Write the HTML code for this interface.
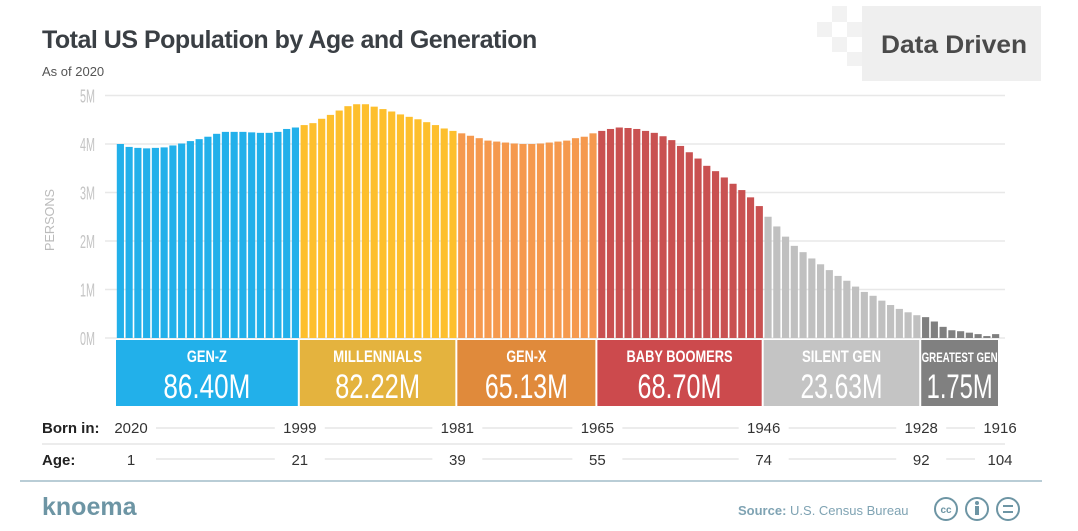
<!DOCTYPE html>
<html><head><meta charset="utf-8">
<style>
body{margin:0;background:#fff;width:1078px;height:526px;overflow:hidden;font-family:"Liberation Sans",sans-serif}
svg text{font-family:"Liberation Sans",sans-serif}
</style></head><body>
<svg id="chart" width="1078" height="526" viewBox="0 0 1078 526">
<text x="42" y="48" font-size="25" font-weight="bold" fill="#3a3f44" letter-spacing="-0.5">Total US Population by Age and Generation</text>
<text x="42" y="76" font-size="13" fill="#555">As of 2020</text>
<g>
<rect x="862" y="6" width="179" height="75" fill="#efefef"/>
<rect x="817" y="22" width="15" height="15" fill="#f2f2f2"/>
<rect x="832" y="6" width="15" height="16" fill="#f2f2f2"/>
<rect x="832" y="37" width="15" height="15" fill="#f2f2f2"/>
<rect x="847" y="22" width="15" height="15" fill="#f2f2f2"/>
<rect x="847" y="52" width="15" height="14" fill="#f2f2f2"/>
<text x="954" y="53" font-size="25" font-weight="bold" fill="#4a4a4a" text-anchor="middle" textLength="146" lengthAdjust="spacingAndGlyphs">Data Driven</text>
</g>
<text transform="translate(54,220) rotate(-90)" font-size="13" fill="#bbb" text-anchor="middle" textLength="62" lengthAdjust="spacingAndGlyphs">PERSONS</text>
<g id="grid"></g>
<g id="bars"></g>
<g id="gens"></g>
<g id="rows"></g>
<line x1="20" y1="481" x2="1042" y2="481" stroke="#b9cdd6" stroke-width="2"/>
<text x="42" y="515" font-size="25" font-weight="bold" fill="#6d95a4">knoema</text>
<text x="738" y="515" font-size="13" fill="#7fa3b3"><tspan font-weight="bold">Source:</tspan> U.S. Census Bureau</text>
<g fill="none" stroke="#6d95a4" stroke-width="2">
<circle cx="946" cy="509" r="11"/><circle cx="977" cy="509" r="11"/><circle cx="1008" cy="509" r="11"/>
<text x="946" y="513" font-size="10" font-weight="bold" fill="#6d95a4" stroke="none" text-anchor="middle">cc</text>
<circle cx="977" cy="503" r="2" fill="#6d95a4" stroke="none"/><rect x="975" y="506" width="4" height="9" fill="#6d95a4" stroke="none"/>
<line x1="1003" y1="506" x2="1013" y2="506"/><line x1="1003" y1="512" x2="1013" y2="512"/>
</g>
</svg>
<script>
const genNames=["GEN-Z","MILLENNIALS","GEN-X","BABY BOOMERS","SILENT GEN","GREATEST GEN"];
const genTotals=["86.40M","82.22M","65.13M","68.70M","23.63M","1.75M"];
const genZ=[4.00,3.94,3.92,3.91,3.92,3.93,3.97,4.01,4.06,4.10,4.15,4.21,4.25,4.25,4.25,4.24,4.23,4.23,4.25,4.31,4.34];
const millennials=[4.39,4.43,4.52,4.60,4.69,4.78,4.82,4.82,4.77,4.72,4.67,4.61,4.56,4.51,4.45,4.39,4.32,4.27];
const genX=[4.22,4.17,4.12,4.07,4.05,4.03,4.01,4.00,4.00,4.01,4.03,4.05,4.07,4.12,4.15,4.22];
const boomers=[4.27,4.31,4.34,4.33,4.31,4.27,4.23,4.16,4.08,3.96,3.83,3.70,3.55,3.44,3.31,3.18,3.05,2.90,2.72];
const silent=[2.50,2.30,2.09,1.90,1.77,1.64,1.52,1.40,1.28,1.18,1.06,0.95,0.87,0.77,0.68,0.60,0.53,0.47];
const greatest=[0.43,0.34,0.23,0.16,0.14,0.11,0.08,0.04,0.08];
const yTicks=[0,1,2,3,4,5];
const bornLabels=["2020","1999","1981","1965","1946","1928","1916"];
const ageLabels=["1","21","39","55","74","92","104"];
const series=[genZ,millennials,genX,boomers,silent,greatest];
const barColors=["#22b0ea","#fdbf2d","#f5994e","#c95151","#c0c0c0","#7f7f7f"];
const boxColors=["#22b0ea","#e4b33e","#e08a3b","#cc4a4d","#c4c4c4","#808080"];
const nameW=[40,89,40,106,79,76];
const totW=[87,85,83,84,82,66];
const NS="http://www.w3.org/2000/svg";
function mk(t,a,p){const e=document.createElementNS(NS,t);for(const k in a)e.setAttribute(k,a[k]);p.appendChild(e);return e;}
const X0=116,X1=1000,BASE=338,PXM=48.5;
const total=series.reduce((s,a)=>s+a.length,0);
const pitch=(X1-X0)/total;
const xAt=i=>X0+i*pitch;
const yAt=v=>BASE-v*PXM;
const grid=document.getElementById('grid');
yTicks.forEach(t=>{
 const l=mk('line',{x1:105,x2:1005,y1:yAt(t),y2:yAt(t),stroke:'#e8e8e8','stroke-width':1.5},grid);
 
 
 const tx=mk('text',{x:80,y:yAt(t)+7,'font-size':18,fill:'#c4c4c4',textLength:15,lengthAdjust:'spacingAndGlyphs'},grid);
 tx.textContent=t+'M';
 
 
});
const bars=document.getElementById('bars'),gens=document.getElementById('gens'),rows=document.getElementById('rows');
let idx=0;const bounds=[X0];
series.forEach((arr,g)=>{
 arr.forEach(v=>{
  const r=mk('rect',{x:xAt(idx)+0.8,y:yAt(v),width:pitch-1.6,height:v*PXM,fill:barColors[g]},bars);
  
  
  idx++;
 });
 const xa=bounds[g],xb=xAt(idx);bounds.push(xb);
 const box=mk('rect',{x:xa,y:340,width:xb-xa-2,height:66,fill:boxColors[g]},gens);
 
 
 const cx=(xa+xb-2)/2;
 const t1=mk('text',{x:cx-nameW[g]/2,y:362,'font-size':g===5?14:17,'font-weight':'bold',fill:'#fff',textLength:nameW[g],lengthAdjust:'spacingAndGlyphs'},gens);
 t1.textContent=genNames[g];
 
 
 const t2=mk('text',{x:cx-totW[g]/2,y:398,'font-size':34,fill:'#fff',textLength:totW[g],lengthAdjust:'spacingAndGlyphs'},gens);
 t2.textContent=genTotals[g];
 
 
});
const rl1=mk('text',{x:42,y:433,'font-size':15,'font-weight':'bold',fill:'#222'},rows);rl1.textContent='Born in:';


const rl2=mk('text',{x:42,y:465,'font-size':15,'font-weight':'bold',fill:'#222'},rows);rl2.textContent='Age:';


const sep=mk('line',{x1:42,x2:1005,y1:444,y2:444,stroke:'#e6e6e6','stroke-width':1.5},rows);


const pos=bounds.slice();pos[0]=131;
bornLabels.forEach((b,i)=>{
 const t=mk('text',{x:pos[i],y:433,'font-size':15,fill:'#333','text-anchor':'middle'},rows);t.textContent=b;
 
 
 const a=mk('text',{x:pos[i],y:465,'font-size':15,fill:'#333','text-anchor':'middle'},rows);a.textContent=ageLabels[i];
 
 
 if(i<bornLabels.length-1){
  const l1=pos[i]+25,l2=pos[i+1]-25;
  [428,459].forEach(yy=>{const d=mk('line',{x1:l1,x2:l2,y1:yy,y2:yy,stroke:'#e6e6e6','stroke-width':1.5},rows);
  
  });
 }
});
</script>
</body></html>
